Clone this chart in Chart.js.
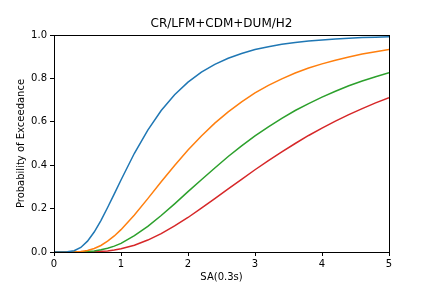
<!DOCTYPE html>
<html>
<head>
<meta charset="utf-8">
<script src="https://cdn.jsdelivr.net/npm/chart.js@4"></script>
<style>
  body { margin: 0; background: #fff; }
</style>
</head>
<body>
<canvas id="myChart" width="432" height="288"></canvas>
<script>
const ctx = document.getElementById("myChart");

const sa = [0, 0.1, 0.2, 0.3, 0.4, 0.5, 0.6, 0.7, 0.8, 0.9, 1.0, 1.2, 1.4, 1.6, 1.8, 2.0, 2.2,
  2.4, 2.6, 2.8, 3.0, 3.2, 3.4, 3.6, 3.8, 4.0, 4.2, 4.4, 4.6, 4.8, 5.0];

const blue = [0, 0, 0.001, 0.006, 0.021, 0.050, 0.092, 0.145, 0.205, 0.268, 0.332, 0.455,
  0.562, 0.652, 0.725, 0.783, 0.829, 0.865, 0.893, 0.915, 0.933, 0.946, 0.957, 0.965, 0.972,
  0.977, 0.981, 0.985, 0.988, 0.990, 0.992];
const orange = [0, 0, 0, 0, 0.002, 0.007, 0.016, 0.030, 0.050, 0.074, 0.103, 0.171,
  0.246, 0.324, 0.399, 0.470, 0.535, 0.594, 0.646, 0.692, 0.733, 0.768, 0.798, 0.825, 0.848,
  0.867, 0.884, 0.899, 0.912, 0.923, 0.933];
const green = [0, 0, 0, 0, 0.001, 0.002, 0.005, 0.010, 0.017, 0.027, 0.040, 0.075,
  0.118, 0.168, 0.222, 0.278, 0.333, 0.387, 0.440, 0.489, 0.535, 0.577, 0.616, 0.652, 0.684,
  0.714, 0.741, 0.766, 0.788, 0.808, 0.826];
const red = [0, 0, 0, 0, 0, 0, 0.001, 0.003, 0.005, 0.009, 0.015, 0.031,
  0.055, 0.085, 0.120, 0.159, 0.202, 0.246, 0.291, 0.335, 0.379, 0.421, 0.461, 0.500, 0.537,
  0.571, 0.603, 0.633, 0.661, 0.687, 0.711];

const xTicks = [0, 1, 2, 3, 4, 5];
const yTicks = ["0.0", "0.2", "0.4", "0.6", "0.8", "1.0"];

const series = [
  { values: blue, color: "#1f77b4" },
  { values: orange, color: "#ff7f0e" },
  { values: green, color: "#2ca02c" },
  { values: red, color: "#d62728" },
];

// box around the plot area like matplotlib spines, title centred over the axes
const frame = {
  id: "frame",
  afterLayout(chart) {
    const t = chart.titleBlock;
    if (t) {
      t.left = chart.chartArea.left;
      t.right = chart.chartArea.right;
    }
  },
  afterDraw(chart) {
    const a = chart.chartArea;
    const c = chart.ctx;
    c.save();
    c.strokeStyle = "#000";
    c.lineWidth = 1;
    c.strokeRect(Math.round(a.left) + 0.5, Math.round(a.top) + 0.5,
      Math.round(a.right - a.left), Math.round(a.bottom - a.top));
    c.restore();
  },
};

Chart.defaults.font.family = "'DejaVu Sans', sans-serif";
Chart.defaults.color = "#000";

new Chart(ctx, {
  type: "line",
  data: {
    datasets: series.map((s) => ({
      data: sa.map((x, i) => ({ x: x, y: s.values[i] })),
      borderColor: s.color,
      borderWidth: 1.5,
      pointRadius: 0,
      fill: false,
      tension: 0,
    })),
  },
  plugins: [frame],
  options: {
    responsive: false,
    animation: false,
    layout: { padding: { left: 0, right: 43, top: 0, bottom: 0 } },
    plugins: {
      legend: { display: false },
      tooltip: { enabled: false },
      title: {
        display: true,
        text: "CR/LFM+CDM+DUM/H2",
        font: { size: 12, weight: "normal" },
        padding: { top: 17, bottom: 3.6 },
      },
    },
    scales: {
      x: {
        type: "linear",
        min: 0,
        max: 5,
        afterFit: (scale) => { scale.height = 36; },
        afterBuildTicks: (scale) => { scale.ticks = xTicks.map((v) => ({ value: v })); },
        ticks: { font: { size: 10 }, padding: 2, maxRotation: 0 },
        grid: { drawOnChartArea: false, color: "#000", tickLength: 4 },
        border: { color: "#000" },
        title: { display: true, text: "SA(0.3s)", font: { size: 10 }, padding: { top: 0, bottom: 5 } },
      },
      y: {
        min: 0,
        max: 1,
        afterFit: (scale) => { scale.width = 54; },
        afterBuildTicks: (scale) => { scale.ticks = yTicks.map((v) => ({ value: parseFloat(v) })); },
        ticks: {
          font: { size: 10 },
          padding: 3,
          callback: (value) => value.toFixed(1),
        },
        grid: { drawOnChartArea: false, color: "#000", tickLength: 4 },
        border: { color: "#000" },
        title: { display: true, text: "Probability of Exceedance", font: { size: 10 }, padding: { top: 15, bottom: 0 } },
      },
    },
  },
});
</script>
</body>
</html>
